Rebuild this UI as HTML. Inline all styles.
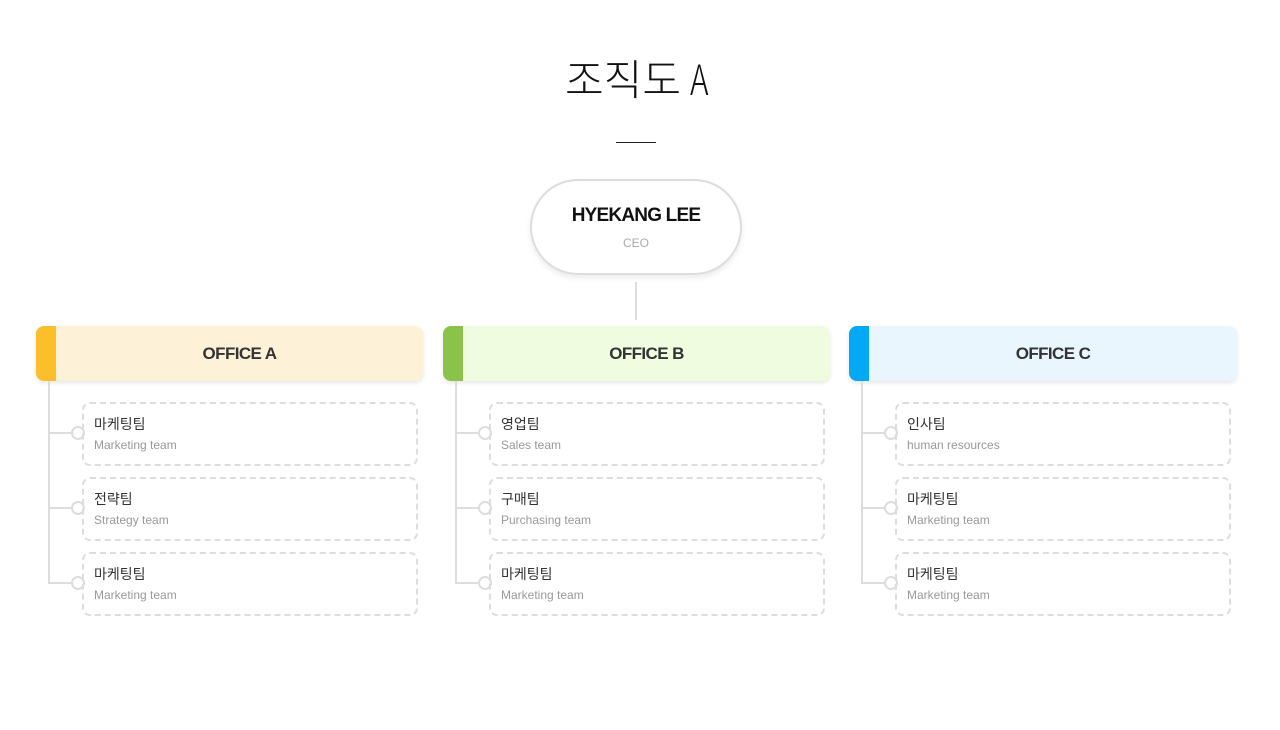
<!DOCTYPE html>
<html><head><meta charset="utf-8"><style>
body{margin:0;width:1280px;height:730px;background:#fff;position:relative;font-family:"Liberation Sans","Noto Sans CJK KR",sans-serif;overflow:hidden}
.a{position:absolute}
.title{left:0;width:1280px;top:50px;text-align:center;font-size:42px;font-weight:300;color:#111;font-family:"Noto Sans CJK KR","Liberation Sans",sans-serif;line-height:56px}
.title span{display:inline-block;transform:scaleX(.75);transform-origin:left center}
.ul{left:616px;top:142px;width:40px;height:1px;background:#222}
.ceo{left:530px;top:179px;width:208px;height:92px;border:2px solid #ddd;border-radius:48px;box-shadow:0 3px 6px rgba(0,0,0,.08);text-align:center}
.ceo b{display:block;margin-top:24px;font-size:19px;color:#111;letter-spacing:-.8px}
.ceo span{display:block;margin-top:9px;font-size:12px;color:#aaa}
.hd{height:55px;border-radius:8px;box-shadow:0 2px 5px rgba(0,0,0,.1);overflow:hidden}
.hd i{position:absolute;left:0;top:0;width:20px;height:55px}
.hd b{position:absolute;left:20px;right:0;top:0;line-height:55px;text-align:center;font-size:17px;color:#333;letter-spacing:-.6px}
.vl{width:2px;background:#ddd}
.hl{height:2px;width:24px;background:#ddd}
.c{width:10px;height:10px;border:2px solid #ddd;border-radius:50%;background:#fff}
.t{width:332px;height:60px;border:2px dashed #ddd;border-radius:8px}
.t b{position:absolute;left:10px;top:10px;font-weight:normal;font-size:14px;color:#333}
.t span{position:absolute;left:10px;top:34px;font-size:12px;color:#999}
</style></head><body>
<div class="a title">조직도 <span>A</span></div>
<div class="a ul"></div>
<div class="a ceo"><b>HYEKANG LEE</b><span>CEO</span></div>
<div class="a vl" style="left:635px;top:282px;height:38px"></div>

<div class="a hd" style="left:36px;top:326px;width:387px;background:#fdf2d8"><i style="background:#fbbf2c"></i><b>OFFICE A</b></div>
<div class="a hd" style="left:443px;top:326px;width:387px;background:#effce0"><i style="background:#8bc34a"></i><b>OFFICE B</b></div>
<div class="a hd" style="left:849px;top:326px;width:388px;background:#eaf6fe"><i style="background:#03a9f4"></i><b>OFFICE C</b></div>

<div class="a vl" style="left:48px;top:381px;height:202px"></div>
<div class="a vl" style="left:455px;top:381px;height:202px"></div>
<div class="a vl" style="left:861px;top:381px;height:202px"></div>

<div class="a hl" style="left:48px;top:432px"></div><div class="a c" style="left:71px;top:426px"></div>
<div class="a hl" style="left:48px;top:507px"></div><div class="a c" style="left:71px;top:501px"></div>
<div class="a hl" style="left:48px;top:582px"></div><div class="a c" style="left:71px;top:576px"></div>
<div class="a hl" style="left:455px;top:432px"></div><div class="a c" style="left:478px;top:426px"></div>
<div class="a hl" style="left:455px;top:507px"></div><div class="a c" style="left:478px;top:501px"></div>
<div class="a hl" style="left:455px;top:582px"></div><div class="a c" style="left:478px;top:576px"></div>
<div class="a hl" style="left:861px;top:432px"></div><div class="a c" style="left:884px;top:426px"></div>
<div class="a hl" style="left:861px;top:507px"></div><div class="a c" style="left:884px;top:501px"></div>
<div class="a hl" style="left:861px;top:582px"></div><div class="a c" style="left:884px;top:576px"></div>

<div class="a t" style="left:82px;top:402px"><b>마케팅팀</b><span>Marketing team</span></div>
<div class="a t" style="left:82px;top:477px"><b>전략팀</b><span>Strategy team</span></div>
<div class="a t" style="left:82px;top:552px"><b>마케팅팀</b><span>Marketing team</span></div>
<div class="a t" style="left:489px;top:402px"><b>영업팀</b><span>Sales team</span></div>
<div class="a t" style="left:489px;top:477px"><b>구매팀</b><span>Purchasing team</span></div>
<div class="a t" style="left:489px;top:552px"><b>마케팅팀</b><span>Marketing team</span></div>
<div class="a t" style="left:895px;top:402px"><b>인사팀</b><span>human resources</span></div>
<div class="a t" style="left:895px;top:477px"><b>마케팅팀</b><span>Marketing team</span></div>
<div class="a t" style="left:895px;top:552px"><b>마케팅팀</b><span>Marketing team</span></div>
</body></html>
